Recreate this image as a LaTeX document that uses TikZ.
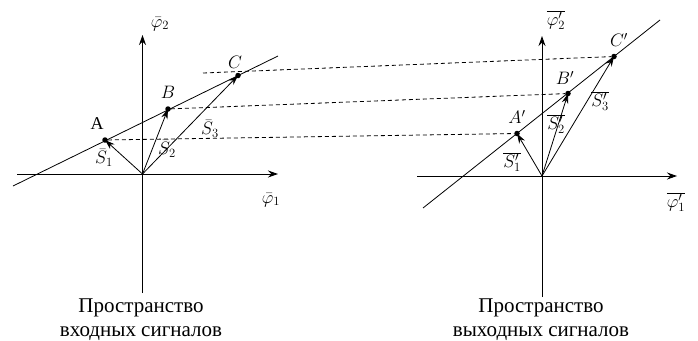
\documentclass[tikz,border=0pt]{standalone}
\usepackage{fix-cm}
\usepackage{fontspec}
\setmainfont{Liberation Serif}
\newfontfamily\capfont{Liberation Serif}
\usetikzlibrary{arrows.meta}
\begin{document}
\begin{tikzpicture}[x=1pt,y=-1pt,
  axis/.style={line width=0.9pt,-{Stealth[length=10pt,width=7pt]}},
  vec/.style={line width=0.8pt,-{Stealth[length=10pt,width=6.5pt]}},
  thinline/.style={line width=0.8pt},
  dashline/.style={line width=0.8pt,dash pattern=on 4pt off 3pt},
  dot/.style={circle,fill=black,inner sep=0pt,minimum size=5.5pt},
  lbl/.style={inner sep=0pt,font=\fontsize{18}{20}\selectfont},
  captext/.style={align=center,inner sep=0pt,font=\capfont\fontsize{21}{24}\selectfont}]
\useasboundingbox (0,0) rectangle (698,340);
% ---- left space ----
\coordinate (O1) at (142.5,174);
\coordinate (v1b) at (142.5,293);
\coordinate (v1t) at (142.5,35);
\coordinate (h1l) at (17,174);
\coordinate (h1r) at (278,174);
\coordinate (l1a) at (13,186);
\coordinate (l1b) at (278,56);
\node[dot] (A) at (105,140) {};
\node[dot] (B) at (168,109) {};
\node[dot] (C) at (238,75.5) {};
\coordinate (cs) at (203,73);
\draw[axis] (v1b) -- (v1t);
\draw[axis] (h1l) -- (h1r);
\draw[thinline] (l1a) -- (l1b);
\draw[vec] (O1) -- (A.center);
\draw[vec] (O1) -- (B.center);
\draw[vec] (O1) -- (C.center);
\node[lbl] (phi2) at (160,24) {$\bar{\varphi}_2$};
\node[lbl] (phi1) at (271,200) {$\bar{\varphi}_1$};
\node[lbl] (lA) at (97,124) {$\mathrm{A}$};
\node[lbl] (lB) at (168,92) {$B$};
\node[lbl] (lC) at (235,62) {$C$};
\node[lbl] (s1) at (104,158) {$\bar{S}_1$};
\node[lbl] (s2) at (167,149) {$\bar{S}_2$};
\node[lbl] (s3) at (210,129) {$\bar{S}_3$};
\node[captext] (cap1) at (141,320) {Пространство\\входных сигналов};
% ---- right space ----
\coordinate (O2) at (542,176);
\coordinate (v2b) at (542,297);
\coordinate (v2t) at (542,36);
\coordinate (h2l) at (417,176);
\coordinate (h2r) at (677,176);
\coordinate (l2a) at (423,208);
\coordinate (l2b) at (660,20);
\node[dot] (A2) at (517,133.5) {};
\node[dot] (B2) at (568,93.5) {};
\node[dot] (C2) at (614,56.5) {};
\draw[axis] (v2b) -- (v2t);
\draw[axis] (h2l) -- (h2r);
\draw[thinline] (l2a) -- (l2b);
\draw[vec] (O2) -- (A2.center);
\draw[vec] (O2) -- (B2.center);
\draw[vec] (O2) -- (C2.center);
\node[lbl] (phi2p) at (556,20) {$\overline{\varphi'_2}$};
\node[lbl] (phi1p) at (676,202) {$\overline{\varphi'_1}$};
\node[lbl] (lA2) at (517,117) {$A'$};
\node[lbl] (lB2) at (565,78) {$B'$};
\node[lbl] (lC2) at (619,40) {$C'$};
\node[lbl] (s1p) at (512,162) {$\overline{S'_1}$};
\node[lbl] (s2p) at (556,124) {$\overline{S'_2}$};
\node[lbl] (s3p) at (600,101) {$\overline{S'_3}$};
\node[captext] (cap2) at (541,320) {Пространство\\выходных сигналов};
% ---- dashed correspondences ----
\draw[dashline] (A) -- (A2);
\draw[dashline] (B) -- (B2);
\draw[dashline] (cs) -- (C2);
\end{tikzpicture}
\end{document}
